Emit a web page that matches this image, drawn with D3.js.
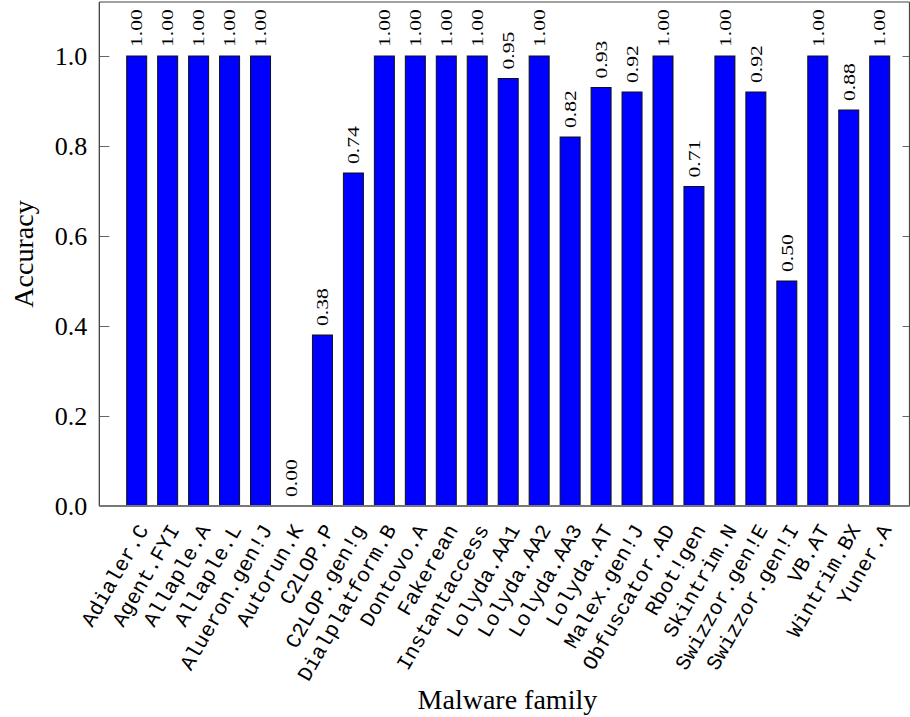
<!DOCTYPE html>
<html>
<head>
<meta charset="utf-8">
<script src="https://cdn.jsdelivr.net/npm/d3@7"></script>
<style>
  html, body { margin: 0; padding: 0; background: #fff; }
  svg { display: block; }
</style>
</head>
<body>
<svg id="chart" width="910" height="717"></svg>
<script>
// Malware families and their classification accuracy
const families = [
  "Adialer.C", "Agent.FYI", "Allaple.A", "Allaple.L", "Alueron.gen!J",
  "Autorun.K", "C2LOP.P", "C2LOP.gen!g", "Dialplatform.B", "Dontovo.A",
  "Fakerean", "Instantaccess", "Lolyda.AA1", "Lolyda.AA2", "Lolyda.AA3",
  "Lolyda.AT", "Malex.gen!J", "Obfuscator.AD", "Rbot!gen", "Skintrim.N",
  "Swizzor.gen!E", "Swizzor.gen!I", "VB.AT", "Wintrim.BX", "Yuner.A"
];
const accuracy = [
  1.00, 1.00, 1.00, 1.00, 1.00,
  0.00, 0.38, 0.74, 1.00, 1.00,
  1.00, 1.00, 0.95, 1.00, 0.82,
  0.93, 0.92, 1.00, 0.71, 1.00,
  0.92, 0.50, 1.00, 0.88, 1.00
];
const yTicks = [0.0, 0.2, 0.4, 0.6, 0.8, 1.0];
const yMax = 1.12;

const serif = "Liberation Serif, DejaVu Serif, serif";
const mono = "Liberation Mono, DejaVu Sans Mono, monospace";

const plotL = 99.3, plotR = 909.5, plotT = 2, plotB = 506;
const svg = d3.select("#chart");

const x = d3.scaleLinear()
  .domain([-1.208, families.length - 1 + 0.9625])
  .range([plotL, plotR]);
const y = d3.scaleLinear().domain([0, yMax]).range([plotB, plotT]);
const barW = 20;

// bars
svg.append("g").selectAll("rect")
  .data(accuracy)
  .join("rect")
  .attr("x", (d, i) => x(i) - barW / 2)
  .attr("y", d => y(d))
  .attr("width", barW)
  .attr("height", d => y(0) - y(d))
  .attr("fill", "#0000ff")
  .attr("stroke", "#111")
  .attr("stroke-width", 1);

// value labels above the bars
svg.append("g").selectAll("text")
  .data(accuracy)
  .join("text")
  .attr("transform", (d, i) => `translate(${x(i)},${y(d) - 9}) rotate(-90) scale(1.27,1)`)
  .attr("dy", "0.34em")
  .attr("text-anchor", "start")
  .style("font-family", serif)
  .style("font-size", "17px")
  .attr("fill", "#000")
  .text(d => d.toFixed(2));

// left axis with inward ticks
const yAxisL = d3.axisRight(y).tickValues(yTicks).tickSize(10).tickFormat("");
const gL = svg.append("g").attr("transform", `translate(${plotL},0)`).call(yAxisL);
gL.select(".domain").remove();
gL.selectAll(".tick line").attr("stroke", "#666").attr("stroke-width", 1);

// right axis with inward ticks
const yAxisR = d3.axisLeft(y).tickValues(yTicks).tickSize(7).tickFormat("");
const gR = svg.append("g").attr("transform", `translate(${plotR},0)`).call(yAxisR);
gR.select(".domain").remove();
gR.selectAll(".tick line").attr("stroke", "#666").attr("stroke-width", 1);

// y tick labels
svg.append("g").selectAll("text")
  .data(yTicks)
  .join("text")
  .attr("x", plotL - 12)
  .attr("y", d => y(d))
  .attr("dy", "0.36em")
  .attr("text-anchor", "end")
  .style("font-family", serif)
  .style("font-size", "26px")
  .attr("fill", "#000")
  .text(d => d.toFixed(1));

// frame
svg.append("line").attr("x1", plotL).attr("x2", plotR).attr("y1", plotT).attr("y2", plotT)
  .attr("stroke", "#444").attr("stroke-width", 1.2);
svg.append("line").attr("x1", plotL).attr("x2", plotL).attr("y1", plotT).attr("y2", plotB)
  .attr("stroke", "#333").attr("stroke-width", 1.2);
svg.append("line").attr("x1", plotR).attr("x2", plotR).attr("y1", plotT).attr("y2", plotB)
  .attr("stroke", "#444").attr("stroke-width", 1.2);
svg.append("line").attr("x1", plotL).attr("x2", plotR).attr("y1", plotB).attr("y2", plotB)
  .attr("stroke", "#777").attr("stroke-width", 2);

// category labels
svg.append("g").selectAll("text")
  .data(families)
  .join("text")
  .attr("transform", (d, i) => `translate(${x(i) + 6},${plotB + 20}) rotate(-60)`)
  .attr("dy", "0.35em")
  .attr("text-anchor", "end")
  .style("font-family", mono)
  .style("font-size", "21px")
  .attr("fill", "#000")
  .text(d => d);

// axis titles
svg.append("text")
  .attr("x", (plotL + plotR) / 2 + 3)
  .attr("y", 709)
  .attr("text-anchor", "middle")
  .style("font-family", serif)
  .style("font-size", "28px")
  .attr("fill", "#000")
  .text("Malware family");

svg.append("text")
  .attr("transform", `translate(33,${(plotT + plotB) / 2}) rotate(-90)`)
  .attr("text-anchor", "middle")
  .style("font-family", serif)
  .style("font-size", "28px")
  .attr("fill", "#000")
  .text("Accuracy");
</script>
</body>
</html>
